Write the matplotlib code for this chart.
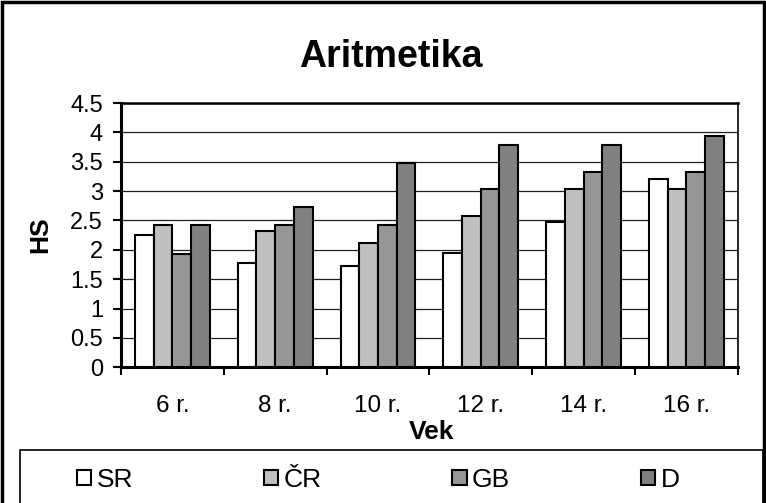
import numpy as np
import matplotlib.pyplot as plt
from matplotlib.patches import Rectangle

plt.rcParams['font.family'] = ['Liberation Sans', 'DejaVu Sans']

vek = ['6 r.', '8 r.', '10 r.', '12 r.', '14 r.', '16 r.']
krajiny = ['SR', 'ČR', 'GB', 'D']
sr = [2.26, 1.77, 1.73, 1.94, 2.48, 3.20]
cr = [2.43, 2.32, 2.12, 2.58, 3.04, 3.04]
gb = [1.93, 2.43, 2.42, 3.04, 3.33, 3.33]
d = [2.43, 2.73, 3.48, 3.79, 3.79, 3.94]
farby = ['#FFFFFF', '#C0C0C0', '#969696', '#808080']

fig = plt.figure(figsize=(7.66, 5.03), dpi=100)
ax = fig.add_axes([0.158, 0.270, 0.805, 0.525])

x = np.arange(len(vek))
w = 0.182
for i, (hodnoty, farba, nazov) in enumerate(zip([sr, cr, gb, d], farby, krajiny)):
    ax.bar(x + (i - 1.5) * w, hodnoty, w, color=farba, edgecolor='black',
           linewidth=1.5, label=nazov, zorder=3)

ax.set_xlim(-0.5, len(vek) - 0.5)
ax.set_ylim(0, 4.5)
ax.set_yticks(np.arange(0, 4.51, 0.5))
ax.set_yticklabels(['0', '0.5', '1', '1.5', '2', '2.5', '3', '3.5', '4', '4.5'], fontsize=17)
ax.set_xticks(x)
ax.set_xticklabels(vek, fontsize=17.5)
ax.set_xticks(np.arange(-0.5, len(vek), 1), minor=True)
ax.tick_params(axis='x', which='major', length=0, pad=20)
ax.tick_params(axis='x', which='minor', length=6, width=1.5, direction='out')
ax.tick_params(axis='y', length=6, width=1.5, direction='out', pad=7)
ax.yaxis.grid(True, color='#202020', linewidth=0.9, zorder=0)
ax.set_axisbelow(True)
ax.spines['top'].set_linewidth(1.8)
ax.spines['right'].set_linewidth(1.2)
for s in ['left', 'bottom']:
    ax.spines[s].set_linewidth(2.2)

fig.text(391 / 766, 1 - 67 / 503, 'Aritmetika', fontsize=27, fontweight='bold',
         ha='center', va='baseline')
ax.set_ylabel('HS', fontsize=19, fontweight='bold')
ax.yaxis.set_label_coords(-0.112, 0.5)
ax.set_xlabel('Vek', fontsize=19, fontweight='bold')
ax.xaxis.set_label_coords(0.504, -0.2)

# ram legendy
fig.patches.append(Rectangle((20 / 766, -0.02), 743 / 766, 0.02 + 53 / 503,
                             transform=fig.transFigure, fill=False,
                             edgecolor='black', linewidth=1.2))
leg = fig.legend(loc='center left', bbox_to_anchor=(0.100, 0.046),
                 ncol=4, fontsize=19, frameon=False,
                 handlelength=0.55, handleheight=0.55, handletextpad=0.2,
                 columnspacing=4.95, borderaxespad=0, borderpad=0)

fig.patches.append(Rectangle((0.003, -0.02), 0.994, 1.017, transform=fig.transFigure,
                             fill=False, edgecolor='black', linewidth=2.5))

fig.savefig('out.png', dpi=100)
